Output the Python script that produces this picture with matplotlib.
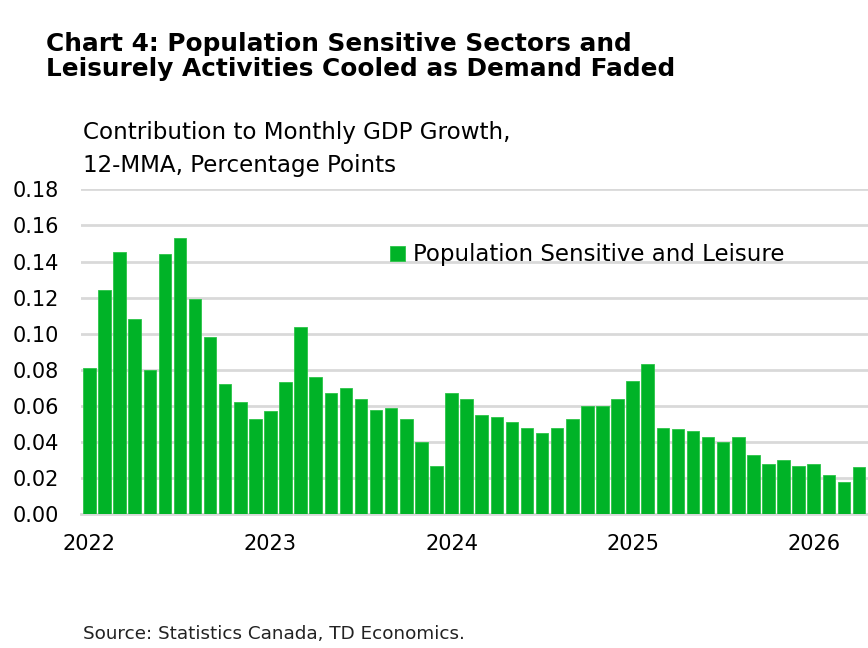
import numpy as np
import matplotlib.pyplot as plt

plt.rcParams['font.family'] = ['DejaVu Sans']

# monthly, Jan 2022 - Apr 2026
values = [0.081, 0.124, 0.145, 0.108, 0.080, 0.144, 0.153, 0.119, 0.098, 0.072,
          0.062, 0.053, 0.057, 0.073, 0.104, 0.076, 0.067, 0.070, 0.064, 0.058,
          0.059, 0.053, 0.040, 0.027, 0.067, 0.064, 0.055, 0.054, 0.051, 0.048,
          0.045, 0.048, 0.053, 0.060, 0.060, 0.064, 0.074, 0.083, 0.048, 0.047,
          0.046, 0.043, 0.040, 0.043, 0.033, 0.028, 0.030, 0.027, 0.028, 0.022,
          0.018, 0.026]
year_labels = ['2022', '2023', '2024', '2025', '2026']
series_name = 'Population Sensitive and Leisure'

green = '#00B327'
x = np.arange(len(values))

fig = plt.figure(figsize=(8.68, 6.48), dpi=100)
ax = fig.add_axes([0.0933, 0.2063, 0.9067, 0.5016])

ax.bar(x, values, width=0.83, color=green, edgecolor='#2BC447', linewidth=0.6,
       label=series_name, zorder=3)

ax.set_ylim(0, 0.18)
ax.set_xlim(-0.56, 51.6)
ax.set_yticks(np.arange(0, 0.181, 0.02))
ax.set_yticklabels(['%.2f' % v for v in np.arange(0, 0.181, 0.02)])
ax.set_xticks(np.arange(0, len(values), 12))
ax.set_xticklabels(year_labels)
ax.grid(axis='y', color='#D9D9D9', linewidth=2, zorder=0)
ax.tick_params(length=0, labelsize=15, colors='black')
ax.tick_params(axis='y', pad=16)
ax.tick_params(axis='x', pad=14)
for s in ['top', 'right', 'left']:
    ax.spines[s].set_visible(False)
ax.spines['bottom'].set_color('#D9D9D9')
ax.spines['bottom'].set_linewidth(2)

ax.legend(loc='upper left', bbox_to_anchor=(0.367, 0.897), frameon=False,
          fontsize=16.5, handlelength=0.65, handleheight=0.65, handletextpad=0.35)

fig.text(0.053, 0.932, 'Chart 4: Population Sensitive Sectors and', fontsize=17.8,
         fontweight='bold', va='center')
fig.text(0.053, 0.894, 'Leisurely Activities Cooled as Demand Faded', fontsize=17.8,
         fontweight='bold', va='center')
fig.text(0.0955, 0.795, 'Contribution to Monthly GDP Growth,', fontsize=16.6, va='center')
fig.text(0.0955, 0.745, '12-MMA, Percentage Points', fontsize=16.6, va='center')
fig.text(0.0955, 0.022, 'Source: Statistics Canada, TD Economics.', fontsize=13.2,
         va='center', color='#222222')

fig.savefig('out.png', dpi=100)
